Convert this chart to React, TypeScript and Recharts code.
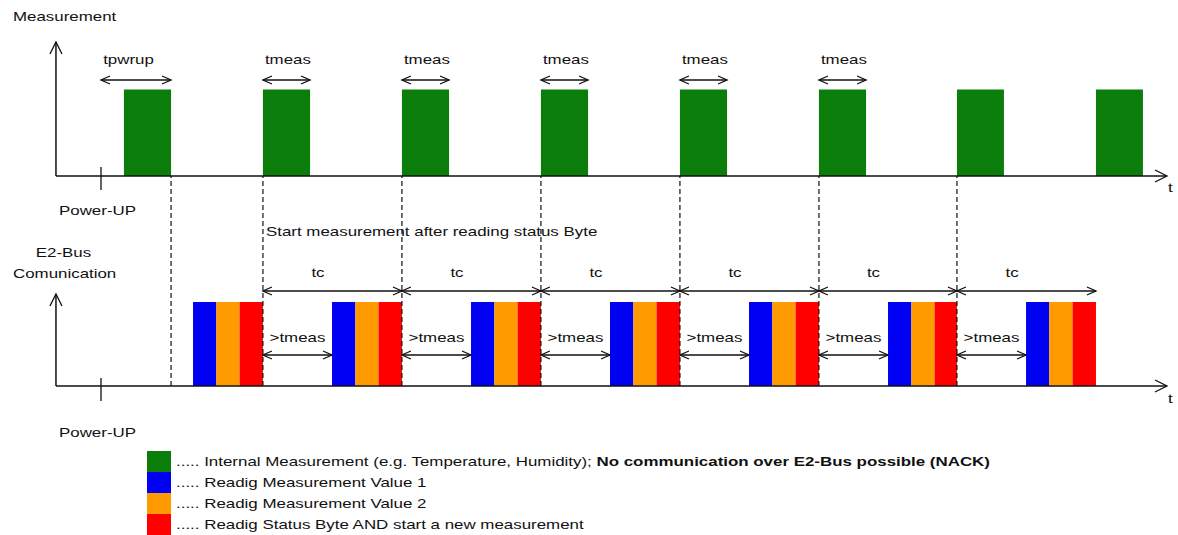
import React from 'react';
import { ComposedChart, XAxis, YAxis, ReferenceArea, ReferenceLine, Scatter, Legend } from 'recharts';

const W = 1178;
const H = 535;

// time axis: t = 0 at Power-UP, one conversion cycle tc = 10 units
const T_MIN = -7.266;
const T_MAX = 77.482;
// level axis: bus lane baseline = 0, measurement lane baseline = 2.5
const V_MIN = -1.7738;
const V_MAX = 4.5952;

const MEAS_BASE = 2.5;
const MEAS_HIGH = 3.53;
const BUS_BASE = 0;
const BUS_HIGH = 1.0;

const GREEN = '#0a7d0a';
const BLUE = '#0000f2';
const ORANGE = '#ff9a00';
const RED = '#ff0000';
const INK = '#111111';

// ---- data (time units) ----
const powerUpT = 0;
const greenStart = [1.65, 11.65, 21.65, 31.65, 41.65, 51.65, 61.58, 71.58];
const greenEnd = [5.04, 15.04, 25.04, 35.04, 45.04, 55.04, 64.96, 74.96];
const blueStart = [6.62, 16.62, 26.62, 36.62, 46.62, 56.62, 66.55];
const orangeStart = [8.3, 18.3, 28.3, 38.3, 48.3, 58.3, 68.22];
const redStart = [9.97, 19.97, 29.97, 39.97, 49.97, 59.97, 69.9];
const redEnd = [11.65, 21.65, 31.65, 41.65, 51.65, 61.58, 71.58];
const dashedAt = [5.04, 11.65, 21.65, 31.65, 41.65, 51.65, 61.58];

// dimension arrows
const tmeasFrom = [11.65, 21.65, 31.65, 41.65, 51.65];
const tmeasTo = [15.04, 25.04, 35.04, 45.04, 55.04];
const tcFrom = [11.65, 21.65, 31.65, 41.65, 51.65, 61.58];
const tcTo = [21.65, 31.65, 41.65, 51.65, 61.58, 71.58];
const gapFrom = [11.65, 21.65, 31.65, 41.65, 51.65, 61.58];
const gapTo = [16.62, 26.62, 36.62, 46.62, 56.62, 66.55];

const legendColors = [GREEN, BLUE, ORANGE, RED];
const legendTexts = [
  '..... Internal Measurement (e.g. Temperature, Humidity); ',
  '..... Readig Measurement Value 1',
  '..... Readig Measurement Value 2',
  '..... Readig Status Byte AND start a new measurement',
];
const legendBold = ['No communication over E2-Bus possible (NACK)', '', '', ''];

// ---- annotation placement (data units) ----
const AXIS_T = -3.24;
const AXIS_END_T = 76.69;
const MEAS_TIP = 4.095;
const BUS_TIP = 1.095;
const TOP_ARROW_V = 3.643;
const TOP_LABEL_V = 3.833;
const TC_ARROW_V = 1.131;
const TC_LABEL_V = 1.298;
const GAP_ARROW_V = 0.369;
const GAP_LABEL_V = 0.524;

type Lab = { t: number; v: number; text: string; anchor: string };

const labelData: Lab[] = [
  { t: -6.33, v: 4.345, text: 'Measurement', anchor: 'start' },
  { t: -3.02, v: 2.036, text: 'Power-UP', anchor: 'start' },
  { t: 11.87, v: 1.786, text: 'Start measurement after reading status Byte', anchor: 'start' },
  { t: -2.7, v: 1.536, text: 'E2-Bus', anchor: 'middle' },
  { t: -6.33, v: 1.286, text: 'Comunication', anchor: 'start' },
  { t: -3.02, v: -0.607, text: 'Power-UP', anchor: 'start' },
  { t: 76.76, v: 2.31, text: 't', anchor: 'start' },
  { t: 76.76, v: -0.202, text: 't', anchor: 'start' },
  { t: 1.98, v: TOP_LABEL_V, text: 'tpwrup', anchor: 'middle' },
  ...tmeasFrom.map((a, i) => ({ t: (a + tmeasTo[i]) / 2 + 0.1, v: TOP_LABEL_V, text: 'tmeas', anchor: 'middle' })),
  ...tcFrom.map((a, i) => ({ t: (a + tcTo[i]) / 2 - 1.04, v: TC_LABEL_V, text: 'tc', anchor: 'middle' })),
  ...gapFrom.map((a, i) => ({ t: (a + gapTo[i]) / 2, v: GAP_LABEL_V, text: '>tmeas', anchor: 'middle' })),
];

const FONT = '"Liberation Sans", Arial, sans-serif';
const SX = 1.3;

function headPath(tx: number, ty: number, fx: number, fy: number, len: number, half: number) {
  const dx = tx - fx;
  const dy = ty - fy;
  const L = Math.hypot(dx, dy) || 1;
  const ux = dx / L;
  const uy = dy / L;
  const bx = tx - ux * len;
  const by = ty - uy * len;
  const px = -uy;
  const py = ux;
  return `M${bx + px * half},${by + py * half}L${tx},${ty}L${bx - px * half},${by - py * half}`;
}

const DimArrow = (p: any) => {
  const { x1, y1, x2, y2 } = p;
  return (
    <g>
      <line x1={x1} y1={y1} x2={x2} y2={y2} stroke={INK} strokeWidth={1.3} />
      <path d={headPath(x1, y1, x2, y2, 9, 4) + headPath(x2, y2, x1, y1, 9, 4)} fill="none" stroke={INK} strokeWidth={1.3} />
    </g>
  );
};

const AxisArrow = (p: any) => {
  const { x1, y1, x2, y2 } = p;
  return (
    <g>
      <line x1={x1} y1={y1} x2={x2} y2={y2} stroke={INK} strokeWidth={1.5} />
      <path d={headPath(x2, y2, x1, y1, 12, 6)} fill="none" stroke={INK} strokeWidth={1.3} />
    </g>
  );
};

const LabelShape = (p: any) => {
  const { cx, cy, payload } = p;
  return (
    <text
      transform={`translate(${cx},${cy}) scale(${SX},1)`}
      x={0}
      y={0}
      textAnchor={payload.anchor}
      fontFamily={FONT}
      fontSize={13}
      fill={INK}
    >
      {payload.text}
    </text>
  );
};

const LegendBox = () => (
  <div style={{ fontFamily: FONT, fontSize: 13, color: INK }}>
    {legendColors.map((c, i) => (
      <div key={i} style={{ display: 'flex', alignItems: 'center', height: 21 }}>
        <div style={{ width: 24, height: 21, background: c }} />
        <div style={{ marginLeft: 5, whiteSpace: 'nowrap', transform: `scaleX(${SX})`, transformOrigin: 'left center' }}>
          {legendTexts[i]}
          {legendBold[i] ? <b>{legendBold[i]}</b> : null}
        </div>
      </div>
    ))}
  </div>
);

export default function App() {
  return (
    <div style={{ position: 'absolute', left: 0, top: 0, width: W, height: H, background: '#fff' }}>
      <ComposedChart width={W} height={H} data={labelData} margin={{ top: 0, right: 0, bottom: 0, left: 0 }}>
        <XAxis type="number" dataKey="t" domain={[T_MIN, T_MAX]} hide allowDataOverflow />
        <YAxis type="number" dataKey="v" domain={[V_MIN, V_MAX]} hide allowDataOverflow />

        {dashedAt.map((t, i) => (
          <ReferenceLine
            key={'d' + i}
            segment={[{ x: t, y: BUS_BASE }, { x: t, y: MEAS_BASE }]}
            stroke={INK}
            strokeWidth={1.2}
            strokeDasharray="5 3"
          />
        ))}

        {greenStart.map((s, i) => (
          <ReferenceArea key={'g' + i} x1={s} x2={greenEnd[i]} y1={MEAS_BASE} y2={MEAS_HIGH} fill={GREEN} fillOpacity={1} stroke="none" />
        ))}
        {blueStart.map((s, i) => (
          <ReferenceArea key={'b' + i} x1={s} x2={orangeStart[i]} y1={BUS_BASE} y2={BUS_HIGH} fill={BLUE} fillOpacity={1} stroke="none" />
        ))}
        {orangeStart.map((s, i) => (
          <ReferenceArea key={'o' + i} x1={s} x2={redStart[i]} y1={BUS_BASE} y2={BUS_HIGH} fill={ORANGE} fillOpacity={1} stroke="none" />
        ))}
        {redStart.map((s, i) => (
          <ReferenceArea key={'r' + i} x1={s} x2={redEnd[i]} y1={BUS_BASE} y2={BUS_HIGH} fill={RED} fillOpacity={1} stroke="none" />
        ))}

        {/* axes */}
        <ReferenceLine segment={[{ x: AXIS_T, y: MEAS_BASE }, { x: AXIS_T, y: MEAS_TIP }]} shape={AxisArrow} />
        <ReferenceLine segment={[{ x: AXIS_T, y: MEAS_BASE }, { x: AXIS_END_T, y: MEAS_BASE }]} shape={AxisArrow} />
        <ReferenceLine segment={[{ x: AXIS_T, y: BUS_BASE }, { x: AXIS_T, y: BUS_TIP }]} shape={AxisArrow} />
        <ReferenceLine segment={[{ x: AXIS_T, y: BUS_BASE }, { x: AXIS_END_T, y: BUS_BASE }]} shape={AxisArrow} />
        <ReferenceLine segment={[{ x: powerUpT, y: 2.607 }, { x: powerUpT, y: 2.333 }]} stroke={INK} strokeWidth={1.3} />
        <ReferenceLine segment={[{ x: powerUpT, y: 0.095 }, { x: powerUpT, y: -0.179 }]} stroke={INK} strokeWidth={1.3} />

        {/* dimension arrows */}
        <ReferenceLine segment={[{ x: powerUpT, y: TOP_ARROW_V }, { x: greenEnd[0], y: TOP_ARROW_V }]} shape={DimArrow} />
        {tmeasFrom.map((a, i) => (
          <ReferenceLine key={'tm' + i} segment={[{ x: a, y: TOP_ARROW_V }, { x: tmeasTo[i], y: TOP_ARROW_V }]} shape={DimArrow} />
        ))}
        {tcFrom.map((a, i) => (
          <ReferenceLine key={'tc' + i} segment={[{ x: a, y: TC_ARROW_V }, { x: tcTo[i], y: TC_ARROW_V }]} shape={DimArrow} />
        ))}
        {gapFrom.map((a, i) => (
          <ReferenceLine key={'gp' + i} segment={[{ x: a, y: GAP_ARROW_V }, { x: gapTo[i], y: GAP_ARROW_V }]} shape={DimArrow} />
        ))}

        <Scatter data={labelData} dataKey="v" shape={LabelShape} isAnimationActive={false} legendType="none" />

        <Legend
          layout="horizontal"
          verticalAlign="middle"
          align="center"
          wrapperStyle={{ position: 'absolute', left: 147, top: 451, width: 1000, height: 84, margin: 0 }}
          content={() => <LegendBox />}
        />
      </ComposedChart>
    </div>
  );
}
